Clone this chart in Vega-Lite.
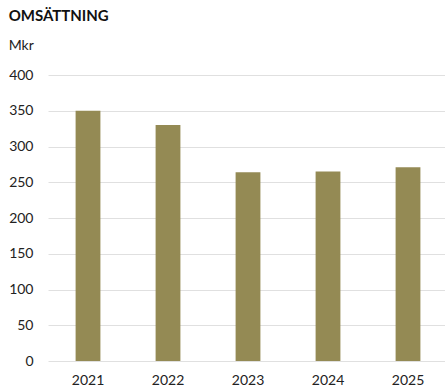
{
  "$schema": "https://vega.github.io/schema/vega-lite/v6.json",
  "width": 400,
  "height": 286,
  "padding": {"left": 8, "top": 9, "right": 0, "bottom": 0},
  "autosize": {"type": "pad"},
  "title": {
    "text": "OMSÄTTNING",
    "subtitle": "Mkr",
    "anchor": "start",
    "frame": "bounds",
    "font": "Lato",
    "fontSize": 15,
    "fontWeight": "bold",
    "color": "#111111",
    "subtitleFont": "Lato",
    "subtitleFontSize": 14,
    "subtitleColor": "#222222",
    "subtitlePadding": 15,
    "offset": 15
  },
  "data": {
    "values": [
      {"year": "2021", "value": 350},
      {"year": "2022", "value": 330},
      {"year": "2023", "value": 264},
      {"year": "2024", "value": 265},
      {"year": "2025", "value": 271}
    ]
  },
  "mark": {"type": "bar", "color": "#948a54"},
  "encoding": {
    "x": {
      "field": "year",
      "type": "ordinal",
      "scale": {"paddingInner": 0.69, "paddingOuter": 0.345},
      "axis": {
        "title": null,
        "labelAngle": 0,
        "ticks": false,
        "domain": false,
        "grid": false,
        "labelPadding": 12,
        "labelFontSize": 14,
        "labelFont": "Lato",
        "labelColor": "#222222"
      }
    },
    "y": {
      "field": "value",
      "type": "quantitative",
      "scale": {"domain": [0, 400]},
      "axis": {
        "title": null,
        "values": [0, 50, 100, 150, 200, 250, 300, 350, 400],
        "ticks": false,
        "domain": false,
        "labelPadding": 15,
        "labelFontSize": 14,
        "labelFont": "Lato",
        "labelColor": "#222222",
        "gridColor": "#e0e0e0",
        "gridWidth": 1
      }
    }
  },
  "config": {"view": {"stroke": null}}
}
